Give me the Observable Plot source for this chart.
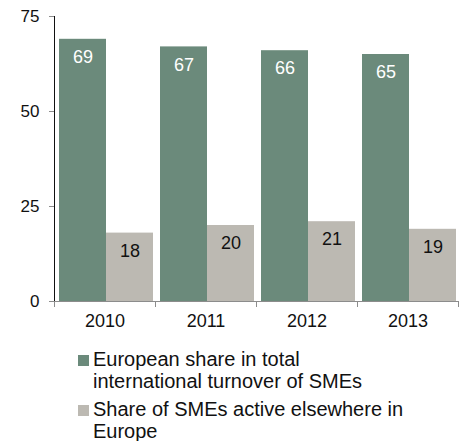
<!DOCTYPE html>
<html>
<head>
<meta charset="utf-8">
<script src="https://cdn.jsdelivr.net/npm/d3@7"></script>
<script src="https://cdn.jsdelivr.net/npm/@observablehq/plot@0.6"></script>
<style>
  body { margin: 0; background: #fff; font-family: "Liberation Sans", Arial, sans-serif; }
  #chart { position: relative; width: 466px; height: 441px; overflow: hidden; }
  .legend { margin-left: 78px; margin-top: 13px; font-size: 20px; line-height: 22px; color: #111; }
  .item { display: flex; align-items: flex-start; }
  .item + .item { margin-top: 6px; }
  .sw { flex: none; width: 11px; height: 11px; margin-top: 7px; margin-right: 4px; }
</style>
</head>
<body>
<div id="chart"></div>
<script>
const years = ["2010", "2011", "2012", "2013"];
const seriesNames = [
  "European share in total international turnover of SMEs",
  "Share of SMEs active elsewhere in Europe"
];
const europeanShare = [69, 67, 66, 65];
const activeElsewhere = [18, 20, 21, 19];
const yTicks = [0, 25, 50, 75];
const colors = ["#6b8a7b", "#bcb9b2"];
const labelColors = ["#ffffff", "#111111"];

const data = [];
years.forEach((y, i) => {
  data.push({year: y, series: seriesNames[0], value: europeanShare[i]});
  data.push({year: y, series: seriesNames[1], value: activeElsewhere[i]});
});

const H = 335, MT = 16, MB = 34;
const plot = Plot.plot({
  width: 466,
  height: H,
  marginLeft: 53,
  marginRight: 8,
  marginTop: MT,
  marginBottom: MB,
  style: {fontFamily: "'Liberation Sans', Arial, sans-serif", fontSize: "17px", color: "#111", background: "#fff"},
  fx: {domain: years, padding: 0, label: null, tickSize: 0, tickPadding: 13},
  x: {domain: seriesNames, paddingInner: 0, paddingOuter: 0.06, align: 0.65, axis: null},
  y: {domain: [0, 75], ticks: yTicks, label: null, tickSize: 5, tickPadding: 10, line: true},
  color: {domain: seriesNames, range: colors},
  marks: [
    Plot.barY(data, {fx: "year", x: "series", y: "value", fill: "series"}),
    Plot.text(data, {
      fx: "year", x: "series", y: "value", text: d => String(d.value),
      fill: d => labelColors[seriesNames.indexOf(d.series)],
      dy: 18, fontSize: 18, lineAnchor: "middle"
    }),
    Plot.ruleY([0], {stroke: "#8c8c8c"}),
    Plot.frame({anchor: "left", stroke: "#8c8c8c", insetTop: H - MT - MB, insetBottom: -5}),
    Plot.frame({anchor: "right", stroke: "#8c8c8c", insetTop: H - MT - MB, insetBottom: -5})
  ]
});
plot.querySelectorAll("[aria-label^='y-axis'] line, [aria-label^='y-axis'] path").forEach(e => e.setAttribute("stroke", "#8c8c8c"));
plot.querySelectorAll("[aria-label^='fx-axis'] text").forEach(e => e.setAttribute("font-size", "18"));

const chart = document.getElementById("chart");
chart.appendChild(plot);

const legend = document.createElement("div");
legend.className = "legend";
seriesNames.forEach((name, i) => {
  const item = document.createElement("div");
  item.className = "item";
  const sw = document.createElement("span");
  sw.className = "sw";
  sw.style.background = colors[i];
  const label = document.createElement("span");
  label.textContent = name;
  label.style.width = i === 0 ? "292px" : "325px";
  item.appendChild(sw);
  item.appendChild(label);
  legend.appendChild(item);
});
chart.appendChild(legend);
</script>
</body>
</html>
